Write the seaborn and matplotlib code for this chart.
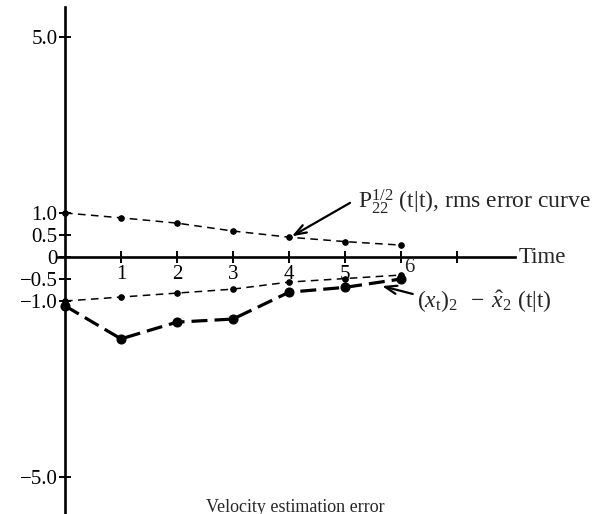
import numpy as np
import pandas as pd
import matplotlib
matplotlib.use("Agg")
import matplotlib.pyplot as plt
import seaborn as sns

# values
time = [0, 1, 2, 3, 4, 5, 6]
rms_upper = [1.0, 0.89, 0.77, 0.59, 0.45, 0.35, 0.27]
rms_lower = [-1.0, -0.91, -0.82, -0.73, -0.57, -0.49, -0.41]
est_error = [-1.11, -1.86, -1.48, -1.41, -0.80, -0.69, -0.50]

yticks = [5.0, 1.0, 0.5, 0.0, -0.5, -1.0, -5.0]
ytick_labels = ["5.0", "1.0", "0.5", "0", "\u22120.5", "\u22121.0", "\u22125.0"]
xticks = [1, 2, 3, 4, 5, 6, 7]
xtick_labels = ["1", "2", "3", "4", "5", "", ""]

sns.set_theme(style="white")
plt.rcParams["font.family"] = ["Liberation Serif", "DejaVu Serif"]
plt.rcParams["mathtext.fontset"] = "custom"
plt.rcParams["mathtext.rm"] = "Liberation Serif"
plt.rcParams["mathtext.it"] = "Liberation Serif:italic"

df = pd.DataFrame({"time": time, "upper": rms_upper,
                   "lower": rms_lower, "err": est_error})

fig = plt.figure(figsize=(5.93, 5.14), dpi=100)
ax = fig.add_axes([0, 0, 1, 1])

sns.lineplot(data=df, x="time", y="upper", ax=ax, color="black", lw=1.1,
             linestyle=(0, (5, 3.5)), marker="o", ms=4, mec="black")
sns.lineplot(data=df, x="time", y="lower", ax=ax, color="black", lw=1.1,
             linestyle=(0, (5, 3.5)), marker="o", ms=4, mec="black")
sns.lineplot(data=df, x="time", y="err", ax=ax, color="black", lw=2.3,
             linestyle=(0, (5, 2.2)), marker="o", ms=6.5, mec="black")

ax.set_xlim(-65 / 56, 528 / 56)
ax.set_ylim(-5.84, 5.84)
ax.set_xlabel("")
ax.set_ylabel("")

for s in ["top", "right"]:
    ax.spines[s].set_visible(False)
ax.spines["left"].set_position(("data", 0))
ax.spines["bottom"].set_position(("data", 0))
ax.spines["left"].set_bounds(-5.84, 5.68)
ax.spines["bottom"].set_bounds(-0.13, 8.04)
for s in ["left", "bottom"]:
    ax.spines[s].set_linewidth(1.9)
    ax.spines[s].set_color("black")

ax.set_yticks(yticks)
ax.set_yticklabels(ytick_labels)
ax.set_xticks(xticks)
ax.set_xticklabels(xtick_labels)
ax.tick_params(axis="both", direction="inout", length=9, width=1.4,
               colors="black", labelsize=15, bottom=True, left=True)
ax.tick_params(axis="y", pad=1)
ax.tick_params(axis="x", pad=1)

# "6" sits beside its tick in the original
ax.text(6.05, -0.02, "6", fontsize=15, ha="left", va="top")
ax.text(8.1, 0.0, "Time", fontsize=16.5, ha="left", va="center")

arrow = dict(arrowstyle="->,head_length=0.7,head_width=0.25", color="black",
             lw=1.6, shrinkA=0, shrinkB=0)
ax.annotate("", xy=(4.05, 0.47), xytext=(5.09, 1.23), arrowprops=arrow)
ax.text(5.23, 1.25, r"$\mathrm{P}_{22}^{1/2}$ (t|t), rms error curve",
        fontsize=17, ha="left", va="center")
ax.annotate("", xy=(5.66, -0.66), xytext=(6.21, -0.84), arrowprops=arrow)
ax.text(6.29, -1.02, r"$(x_{\mathrm{t}})_2\;\;-\;\hat{x}_2$ (t|t)",
        fontsize=17, ha="left", va="center")

fig.text(295 / 593, 1 - 507 / 514, "Velocity estimation error",
         fontsize=13, ha="center", va="center")

fig.savefig("out.png", dpi=100)
